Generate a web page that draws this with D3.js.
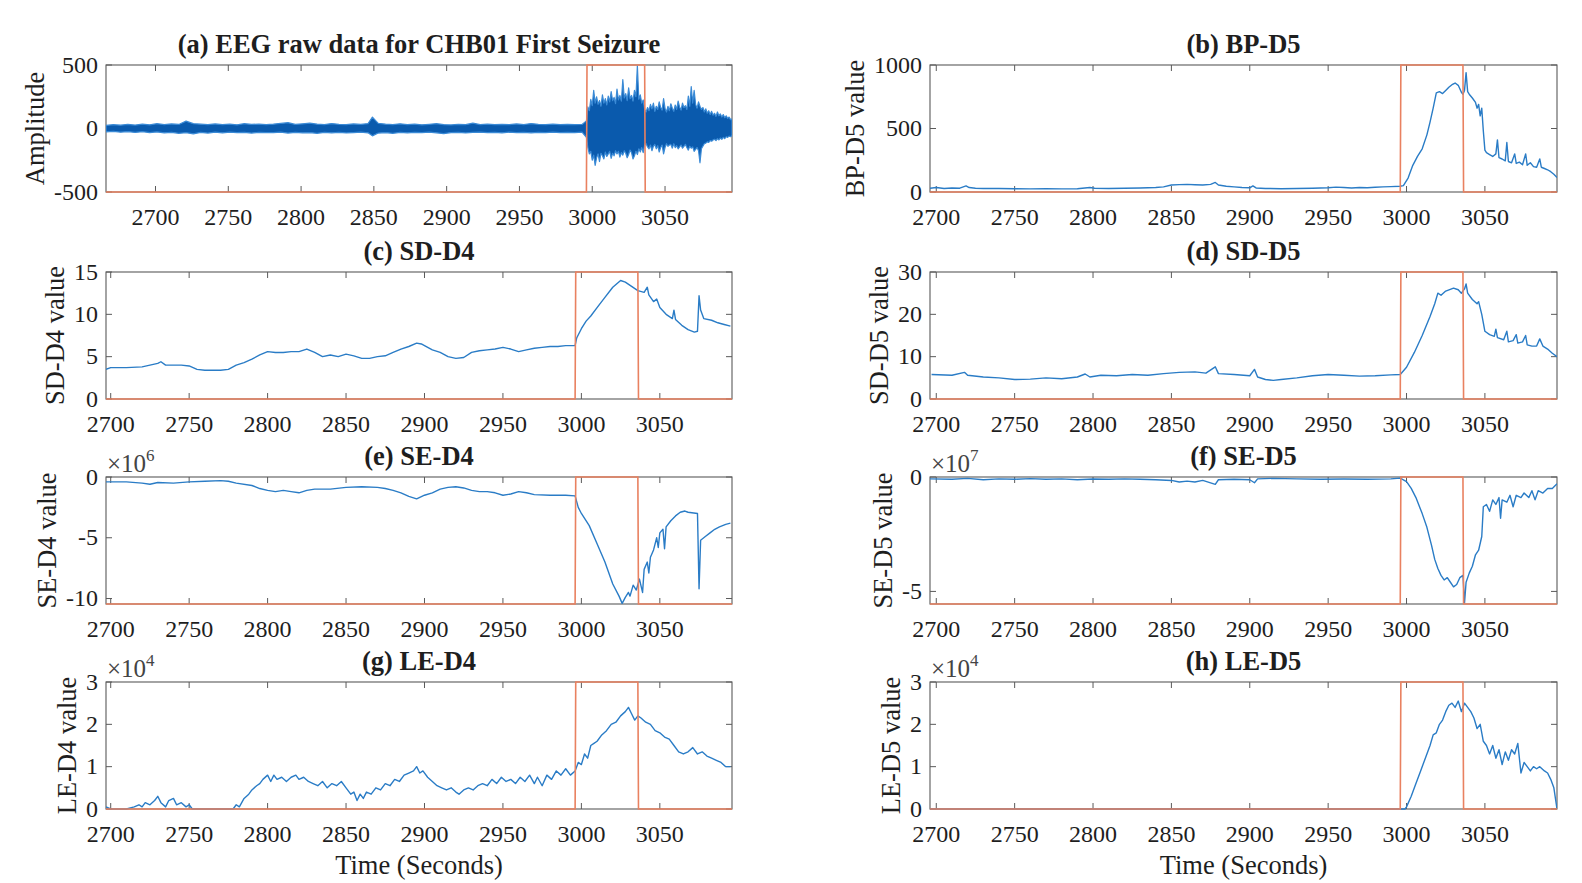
<!DOCTYPE html>
<html><head><meta charset="utf-8">
<script src="https://cdn.jsdelivr.net/npm/d3@7"></script>
<style>
html,body{margin:0;padding:0;background:#fff;}
svg{display:block;font-family:"Liberation Serif","Times New Roman",serif;}
</style></head>
<body><svg id="chart" width="1582" height="883"></svg>
<script>
// ---------------- DATA ----------------
const seizureOnset = 2996;
const seizureOffset = 3036;
const xTicks = [2700, 2750, 2800, 2850, 2900, 2950, 3000, 3050];

// (a) EEG raw data: envelope [time, upper, lower]
const eegEnvelope = [
 [2666,24,-26],[2671,30,-22],[2676,26,-29],[2681,32,-24],[2686,27,-31],[2691,34,-25],[2696,29,-32],
 [2701,38,-27],[2706,31,-34],[2711,36,-30],[2716,32,-38],[2721,58,-33],[2726,38,-42],[2731,34,-31],
 [2736,31,-36],[2741,36,-29],[2746,30,-34],[2751,34,-28],[2756,29,-32],[2761,38,-31],[2766,32,-36],
 [2771,35,-30],[2776,30,-33],[2781,34,-32],[2786,40,-29],[2791,46,-36],[2796,32,-31],[2801,37,-34],
 [2806,42,-32],[2811,34,-38],[2816,31,-31],[2821,39,-34],[2826,33,-30],[2831,31,-35],[2836,36,-32],
 [2841,32,-29],[2846,39,-34],[2849,90,-58],[2853,40,-36],[2858,34,-32],[2863,31,-38],[2868,37,-31],
 [2873,31,-34],[2878,34,-30],[2883,29,-32],[2888,33,-28],[2893,38,-34],[2898,31,-40],[2903,28,-32],
 [2908,32,-30],[2913,30,-35],[2918,42,-31],[2923,31,-29],[2928,35,-33],[2933,30,-31],[2938,33,-34],
 [2943,31,-29],[2948,36,-32],[2953,31,-30],[2958,39,-34],[2963,33,-31],[2968,30,-33],[2973,34,-29],
 [2978,31,-32],[2983,33,-30],[2988,30,-32],[2993,32,-29],
 [2996,60,-70],[2997,170,-150],[2998,140,-200],[2999,230,-180],[3000,180,-250],[3001,300,-210],
 [3002,200,-290],[3003,250,-230],[3004,190,-200],[3005,220,-260],[3006,175,-195],[3007,265,-215],
 [3008,200,-240],[3009,235,-185],[3010,185,-220],[3011,255,-200],[3012,210,-180],[3013,290,-235],
 [3014,220,-195],[3015,245,-215],[3016,195,-175],[3017,310,-200],[3018,225,-180],[3019,260,-225],
 [3020,215,-190],[3021,385,-210],[3022,240,-175],[3023,275,-195],[3024,220,-230],[3025,320,-205],
 [3026,235,-170],[3027,260,-190],[3028,215,-240],[3029,300,-215],[3030,250,-180],[3031,495,-205],
 [3032,230,-160],[3033,265,-185],[3034,200,-150],[3035,225,-190],[3036,150,-130],[3037,130,-120],
 [3038,165,-145],[3039,140,-160],[3040,190,-130],[3041,155,-175],[3042,200,-140],[3043,135,-125],
 [3044,175,-160],[3045,150,-135],[3046,210,-185],[3047,165,-150],[3048,145,-130],[3049,235,-200],
 [3050,160,-150],[3051,130,-120],[3052,175,-140],[3053,140,-130],[3054,195,-125],[3055,160,-155],
 [3056,135,-120],[3057,185,-150],[3058,150,-135],[3059,215,-160],[3060,170,-145],[3061,145,-130],
 [3062,200,-155],[3063,165,-140],[3064,180,-125],[3065,150,-150],[3066,255,-170],[3067,175,-140],
 [3068,330,-155],[3069,200,-145],[3070,300,-180],[3071,190,-165],[3072,160,-150],[3073,210,-175],
 [3074,175,-270],[3075,150,-160],[3076,165,-140],[3077,130,-120],[3078,155,-115],[3079,120,-105],
 [3080,140,-110],[3081,110,-95],[3082,135,-100],[3083,105,-90],[3084,120,-85],[3085,95,-95],
 [3086,130,-80],[3087,100,-90],[3088,115,-75],[3089,90,-85],[3090,110,-70],[3091,85,-80],
 [3092,100,-65],[3093,80,-70],[3094,90,-60],[3095,70,-65],[3096,75,-55]
];

// (b) BP-D5
const bpD5 = [
 [2696,30],[2700,35],[2705,28],[2710,32],[2715,30],[2719,48],[2721,35],[2725,30],[2730,28],[2740,27],
 [2750,26],[2760,25],[2770,26],[2780,25],[2790,26],[2798,35],[2801,30],[2810,28],[2820,30],[2830,32],
 [2840,35],[2845,40],[2850,55],[2855,58],[2860,60],[2865,57],[2870,55],[2875,60],[2878,75],[2880,55],
 [2885,45],[2890,40],[2895,35],[2900,33],[2902,48],[2904,32],[2910,28],[2920,26],[2930,28],[2940,30],
 [2950,33],[2955,38],[2960,35],[2965,32],[2970,35],[2975,34],[2980,37],[2985,40],[2990,42],[2996,45],
 [2998,50],[3001,110],[3004,210],[3007,280],[3010,340],[3013,450],[3015,550],[3017,660],[3019,780],
 [3021,790],[3023,775],[3025,800],[3027,825],[3029,845],[3031,858],[3033,840],[3035,785],[3036,770],
 [3037,800],[3038,940],[3039,790],[3040,770],[3042,740],[3044,705],[3045,660],[3046,690],[3047,600],
 [3048,660],[3049,480],[3050,330],[3051,310],[3053,295],[3055,280],[3057,300],[3058,410],[3059,270],
 [3061,260],[3063,245],[3064,390],[3065,240],[3067,230],[3069,300],[3070,225],[3072,235],[3074,215],
 [3076,300],[3077,210],[3079,230],[3081,200],[3083,195],[3085,260],[3086,195],[3088,185],[3090,175],
 [3092,160],[3094,140],[3096,115]
];

// (c) SD-D4
const sdD4 = [
 [2697,3.5],[2700,3.7],[2710,3.7],[2720,3.8],[2725,4.0],[2730,4.2],[2732,4.4],[2735,4.0],[2745,4.0],
 [2750,3.9],[2755,3.5],[2760,3.4],[2770,3.4],[2775,3.5],[2780,4.0],[2785,4.3],[2790,4.7],[2795,5.2],
 [2800,5.6],[2805,5.5],[2810,5.5],[2815,5.6],[2820,5.6],[2825,5.9],[2830,5.5],[2835,5.0],[2840,5.2],
 [2845,5.0],[2850,5.3],[2855,5.1],[2860,4.8],[2865,4.8],[2870,5.0],[2875,5.1],[2880,5.5],[2885,5.9],
 [2890,6.2],[2895,6.6],[2898,6.5],[2900,6.3],[2905,5.8],[2910,5.5],[2915,5.0],[2920,4.8],[2925,4.9],
 [2930,5.5],[2935,5.7],[2940,5.8],[2945,5.9],[2950,6.1],[2955,5.9],[2960,5.6],[2965,5.8],[2970,6.0],
 [2975,6.1],[2980,6.2],[2985,6.2],[2990,6.3],[2996,6.3],[2997,7.2],[3000,8.3],[3003,9.2],[3006,9.8],
 [3010,10.8],[3015,12.0],[3020,13.2],[3025,14.0],[3028,13.8],[3032,13.3],[3036,12.8],[3040,12.6],
 [3042,13.2],[3043,12.3],[3046,11.5],[3048,11.8],[3050,10.8],[3054,10.0],[3058,9.5],[3059,10.5],
 [3060,9.4],[3064,8.7],[3068,8.2],[3072,7.9],[3074,8.0],[3075,12.2],[3076,10.5],[3078,9.5],[3083,9.3],
 [3087,9.0],[3091,8.8],[3095,8.6]
];

// (d) SD-D5
const sdD5 = [
 [2697,5.8],[2710,5.6],[2718,6.3],[2720,5.6],[2730,5.2],[2740,5.0],[2750,4.6],[2760,4.7],[2770,5.0],
 [2780,4.8],[2790,5.2],[2795,5.9],[2798,5.2],[2805,5.6],[2815,5.5],[2825,5.8],[2835,5.6],[2845,6.0],
 [2855,6.3],[2865,6.4],[2872,6.1],[2878,7.6],[2880,6.0],[2890,5.8],[2900,5.5],[2903,7.0],[2905,5.2],
 [2910,4.6],[2915,4.4],[2920,4.6],[2930,5.0],[2940,5.5],[2950,5.8],[2960,5.6],[2970,5.4],[2980,5.5],
 [2990,5.7],[2996,5.8],[3000,7.5],[3005,11],[3010,15],[3015,19.5],[3018,22.5],[3020,25],[3022,24.5],
 [3025,25.5],[3030,26.2],[3033,25.8],[3035,25.0],[3037,26.0],[3038,27.2],[3039,25],[3042,23.5],
 [3045,22.5],[3046,23],[3048,20],[3050,16],[3053,15.2],[3056,14.8],[3057,16.5],[3058,14.5],[3062,14.0],
 [3064,16.0],[3065,13.5],[3068,13.8],[3070,15.2],[3071,13.2],[3074,13.5],[3076,15.0],[3077,12.8],
 [3080,12.5],[3083,12.5],[3085,14.2],[3087,12.5],[3090,11.8],[3093,10.8],[3096,10.0]
];

// (e) SE-D4 (x 1e6)
const seD4 = [
 [2697,-0.4],[2710,-0.4],[2720,-0.5],[2725,-0.6],[2730,-0.45],[2740,-0.5],[2750,-0.4],[2760,-0.35],
 [2770,-0.3],[2775,-0.35],[2780,-0.5],[2790,-0.7],[2795,-0.95],[2800,-1.1],[2805,-1.2],[2810,-1.1],
 [2815,-1.2],[2820,-1.3],[2825,-1.1],[2830,-1.0],[2840,-1.0],[2850,-0.85],[2860,-0.8],[2870,-0.85],
 [2875,-0.95],[2880,-1.1],[2885,-1.3],[2890,-1.6],[2895,-1.8],[2900,-1.5],[2905,-1.3],[2910,-1.0],
 [2915,-0.85],[2920,-0.8],[2925,-0.9],[2930,-1.1],[2935,-1.2],[2940,-1.2],[2945,-1.3],[2950,-1.5],
 [2955,-1.4],[2960,-1.2],[2965,-1.3],[2970,-1.45],[2980,-1.5],[2990,-1.5],[2996,-1.55],[2998,-2.5],
 [3000,-3.0],[3005,-4.0],[3010,-5.5],[3015,-7.0],[3020,-8.8],[3024,-9.8],[3026,-10.4],[3028,-9.9],
 [3030,-9.5],[3031,-9.8],[3033,-8.9],[3035,-9.3],[3037,-8.4],[3039,-9.5],[3040,-7.6],[3042,-7.0],
 [3043,-7.9],[3044,-6.6],[3046,-6.0],[3048,-5.0],[3049,-5.8],[3050,-4.6],[3052,-4.3],[3053,-5.9],
 [3054,-4.1],[3057,-3.6],[3060,-3.2],[3063,-2.9],[3066,-2.8],[3068,-2.9],[3074,-3.0],[3075,-9.2],
 [3076,-5.2],[3079,-4.9],[3082,-4.6],[3085,-4.3],[3088,-4.1],[3092,-3.9],[3095,-3.8]
];

// (f) SE-D5 (x 1e7)
const seD5 = [
 [2696,-0.08],[2710,-0.1],[2720,-0.06],[2730,-0.12],[2740,-0.08],[2750,-0.1],[2760,-0.07],[2770,-0.1],
 [2780,-0.08],[2790,-0.12],[2800,-0.09],[2810,-0.1],[2820,-0.08],[2830,-0.1],[2840,-0.12],[2850,-0.15],
 [2855,-0.22],[2860,-0.18],[2865,-0.22],[2870,-0.15],[2878,-0.32],[2880,-0.12],[2890,-0.1],[2900,-0.12],
 [2903,-0.25],[2905,-0.08],[2915,-0.06],[2930,-0.08],[2945,-0.1],[2960,-0.09],[2975,-0.1],[2990,-0.08],
 [2996,-0.05],[3000,-0.2],[3003,-0.5],[3006,-0.9],[3010,-1.6],[3013,-2.2],[3016,-3.0],[3018,-3.6],
 [3020,-4.0],[3022,-4.3],[3024,-4.5],[3026,-4.4],[3028,-4.6],[3030,-4.8],[3032,-4.7],[3034,-4.4],
 [3036,-4.3],[3037,-5.5],[3038,-4.6],[3040,-4.2],[3042,-3.9],[3044,-3.4],[3046,-3.2],[3048,-2.6],
 [3049,-1.3],[3051,-1.2],[3053,-1.5],[3055,-1.0],[3057,-1.2],[3059,-0.9],[3060,-1.8],[3061,-1.0],
 [3064,-1.1],[3066,-0.8],[3068,-1.3],[3070,-0.8],[3073,-0.9],[3075,-0.7],[3078,-0.9],[3080,-0.6],
 [3082,-1.0],[3084,-0.6],[3087,-0.7],[3090,-0.5],[3093,-0.5],[3096,-0.3]
];

// (g) LE-D4 (x 1e4)
const leD4 = [
 [2697,0.05],[2700,0],[2705,0],[2710,0],[2715,0.05],[2718,0.1],[2720,0.05],[2722,0.15],[2725,0.1],
 [2728,0.2],[2730,0.3],[2732,0.15],[2735,0.05],[2737,0.2],[2740,0.25],[2742,0.1],[2745,0.15],[2748,0.05],
 [2750,0.1],[2752,0],[2760,0],[2770,0],[2778,0],[2780,0.1],[2782,0.05],[2785,0.25],[2788,0.35],
 [2790,0.45],[2793,0.55],[2795,0.6],[2797,0.7],[2800,0.8],[2802,0.65],[2804,0.8],[2806,0.7],[2809,0.75],
 [2812,0.65],[2815,0.75],[2818,0.8],[2820,0.7],[2823,0.75],[2826,0.65],[2829,0.6],[2832,0.55],[2835,0.65],
 [2838,0.5],[2841,0.6],[2844,0.55],[2847,0.65],[2850,0.5],[2853,0.35],[2855,0.4],[2857,0.2],[2859,0.35],
 [2861,0.25],[2863,0.4],[2866,0.35],[2869,0.5],[2872,0.45],[2875,0.6],[2878,0.55],[2881,0.7],[2884,0.65],
 [2887,0.8],[2890,0.85],[2893,0.9],[2895,1.0],[2897,0.85],[2899,0.9],[2902,0.75],[2905,0.65],[2908,0.55],
 [2911,0.5],[2914,0.45],[2917,0.5],[2920,0.4],[2922,0.35],[2925,0.45],[2928,0.5],[2931,0.45],[2934,0.55],
 [2937,0.6],[2940,0.55],[2943,0.7],[2946,0.6],[2949,0.75],[2952,0.65],[2955,0.7],[2958,0.6],[2961,0.75],
 [2964,0.65],[2967,0.8],[2970,0.6],[2972,0.75],[2975,0.55],[2978,0.8],[2981,0.7],[2984,0.9],[2987,0.8],
 [2990,0.95],[2993,0.8],[2996,0.9],[2998,1.1],[3000,1.05],[3002,1.3],[3004,1.2],[3006,1.5],[3008,1.55],
 [3010,1.6],[3013,1.75],[3016,1.85],[3019,2.0],[3022,2.05],[3025,2.2],[3028,2.3],[3030,2.4],[3032,2.25],
 [3034,2.1],[3036,2.2],[3038,2.15],[3041,2.05],[3044,2.0],[3047,1.85],[3050,1.8],[3053,1.7],[3056,1.65],
 [3059,1.5],[3062,1.35],[3065,1.3],[3068,1.35],[3071,1.45],[3074,1.3],[3077,1.35],[3080,1.25],[3083,1.2],
 [3086,1.15],[3089,1.1],[3092,1.0],[3095,1.0]
];

// (h) LE-D5 (x 1e4)
const leD5 = [
 [2696,0],[2999,0],[3000,0.05],[3003,0.3],[3006,0.6],[3009,0.9],[3012,1.2],[3015,1.5],[3017,1.75],
 [3019,1.8],[3021,2.0],[3023,2.1],[3025,2.3],[3027,2.45],[3029,2.5],[3031,2.4],[3033,2.55],[3035,2.3],
 [3037,2.5],[3039,2.4],[3041,2.3],[3043,2.15],[3045,1.9],[3047,2.0],[3049,1.6],[3051,1.5],[3053,1.3],
 [3055,1.5],[3057,1.2],[3059,1.4],[3061,1.05],[3063,1.35],[3065,1.15],[3067,1.4],[3069,1.3],[3071,1.55],
 [3073,0.85],[3075,1.1],[3077,1.0],[3079,0.9],[3081,1.0],[3083,0.95],[3085,1.0],[3088,0.9],[3090,0.85],
 [3092,0.7],[3094,0.5],[3096,0.0]
];

// ---------------- PANEL CONFIG ----------------
const panels = [
 {title:"(a) EEG raw data for CHB01 First Seizure", ylabel:"Amplitude", col:0,row:0, xd:[2666,3096], yd:[-500,500], yt:[-500,0,500], exp:null, env:eegEnvelope},
 {title:"(b) BP-D5", ylabel:"BP-D5 value", col:1,row:0, xd:[2696,3096], yd:[0,1000], yt:[0,500,1000], exp:null, data:bpD5},
 {title:"(c) SD-D4", ylabel:"SD-D4 value", col:0,row:1, xd:[2697,3096], yd:[0,15], yt:[0,5,10,15], exp:null, data:sdD4},
 {title:"(d) SD-D5", ylabel:"SD-D5 value", col:1,row:1, xd:[2696,3096], yd:[0,30], yt:[0,10,20,30], exp:null, data:sdD5},
 {title:"(e) SE-D4", ylabel:"SE-D4 value", col:0,row:2, xd:[2697,3096], yd:[-10.45,0], yt:[-10,-5,0], exp:"6", data:seD4},
 {title:"(f) SE-D5", ylabel:"SE-D5 value", col:1,row:2, xd:[2696,3096], yd:[-5.55,0], yt:[-5,0], exp:"7", data:seD5},
 {title:"(g) LE-D4", ylabel:"LE-D4 value", col:0,row:3, xd:[2697,3096], yd:[0,3], yt:[0,1,2,3], exp:"4", data:leD4, xlabel:"Time (Seconds)"},
 {title:"(h) LE-D5", ylabel:"LE-D5 value", col:1,row:3, xd:[2696,3096], yd:[0,3], yt:[0,1,2,3], exp:"4", data:leD5, xlabel:"Time (Seconds)"}
];

const colX = [[106,732],[930,1557]];
const rowY = [[65,192],[272,399],[477,604],[682,809]];
const BLUE = "#2a7cc6", EEGBLUE = "#0a5aad", ORANGE = "#e98160", BOX = "#5a5a5a", TXT = "#1e1e1e";
const TICKFS = 24, LABFS = 26.5;

const svg = d3.select("#chart");

panels.forEach((p, i) => {
  const [x0, x1] = colX[p.col];
  const [y0, y1] = rowY[p.row];
  const x = d3.scaleLinear().domain(p.xd).range([x0, x1]);
  const y = d3.scaleLinear().domain(p.yd).range([y1, y0]);
  const g = svg.append("g");

  g.append("clipPath").attr("id", "clip" + i)
    .append("rect").attr("x", x0).attr("y", y0 - 1).attr("width", x1 - x0).attr("height", y1 - y0 + 2);

  // box
  g.append("rect").attr("x", x0).attr("y", y0).attr("width", x1 - x0).attr("height", y1 - y0)
    .attr("fill", "none").attr("stroke", BOX).attr("stroke-width", 1.1);

  // ticks (inward, all four sides)
  const tl = 6;
  xTicks.forEach(t => {
    const xx = x(t);
    g.append("line").attr("x1", xx).attr("x2", xx).attr("y1", y1).attr("y2", y1 - tl).attr("stroke", BOX);
    g.append("line").attr("x1", xx).attr("x2", xx).attr("y1", y0).attr("y2", y0 + tl).attr("stroke", BOX);
    g.append("text").attr("x", xx).attr("y", y1 + 33).attr("text-anchor", "middle")
      .attr("font-size", TICKFS).attr("fill", TXT).text(t);
  });
  p.yt.forEach(t => {
    const yy = y(t);
    g.append("line").attr("x1", x0).attr("x2", x0 + tl).attr("y1", yy).attr("y2", yy).attr("stroke", BOX);
    g.append("line").attr("x1", x1).attr("x2", x1 - tl).attr("y1", yy).attr("y2", yy).attr("stroke", BOX);
    g.append("text").attr("x", x0 - 8).attr("y", yy).attr("dy", "0.32em").attr("text-anchor", "end")
      .attr("font-size", TICKFS).attr("fill", TXT).text(t);
  });

  // y tick label width for ylabel placement
  const maxLab = d3.max(p.yt, t => String(t).length);
  const hasMinus = p.yt.some(t => t < 0);
  const labW = (maxLab - (hasMinus ? 1 : 0)) * TICKFS * 0.5 + (hasMinus ? TICKFS * 0.33 : 0);
  const ylx = x0 - 8 - labW - 10;
  g.append("text").attr("transform", `translate(${ylx},${(y0 + y1) / 2}) rotate(-90)`)
    .attr("text-anchor", "middle").attr("font-size", LABFS).attr("fill", TXT).text(p.ylabel);

  // title
  g.append("text").attr("x", (x0 + x1) / 2).attr("y", y0 - 12).attr("text-anchor", "middle")
    .attr("font-size", LABFS).attr("font-weight", "bold").attr("fill", TXT).text(p.title);

  // exponent
  if (p.exp) {
    const e = g.append("text").attr("x", x0 + 1).attr("y", y0 - 5).attr("font-size", 25).attr("fill", "#444");
    e.append("tspan").text("\u00d710");
    e.append("tspan").attr("dy", -11).attr("font-size", 17).text(p.exp);
  }

  // x label
  if (p.xlabel) {
    g.append("text").attr("x", (x0 + x1) / 2).attr("y", y1 + 65).attr("text-anchor", "middle")
      .attr("font-size", LABFS).attr("fill", TXT).text(p.xlabel);
  }

  const plot = g.append("g").attr("clip-path", `url(#clip${i})`);
  if (p.env) {
    const area = d3.area().x(d => x(d[0])).y0(d => y(d[2])).y1(d => y(d[1]));
    plot.append("path").datum(p.env).attr("d", area)
      .attr("fill", EEGBLUE).attr("stroke", "#3a8ad6").attr("stroke-width", 1.2).attr("stroke-linejoin", "round");
  } else {
    const line = d3.line().x(d => x(d[0])).y(d => y(d[1]));
    plot.append("path").datum(p.data).attr("d", line)
      .attr("fill", "none").attr("stroke", BLUE).attr("stroke-width", 1.4).attr("stroke-linejoin", "round");
  }

  // seizure label (orange), spanning axis limits
  const lo = p.yd[0], hi = p.yd[1];
  const seiz = [[p.xd[0], lo], [seizureOnset, lo], [seizureOnset + 0.4, hi], [seizureOffset, hi],
                [seizureOffset + 0.4, lo], [p.xd[1], lo]];
  const sline = d3.line().x(d => x(d[0])).y(d => y(d[1]));
  g.append("path").datum(seiz).attr("d", sline).attr("fill", "none")
    .attr("stroke", ORANGE).attr("stroke-width", 1.6);
});
</script>
</body></html>
